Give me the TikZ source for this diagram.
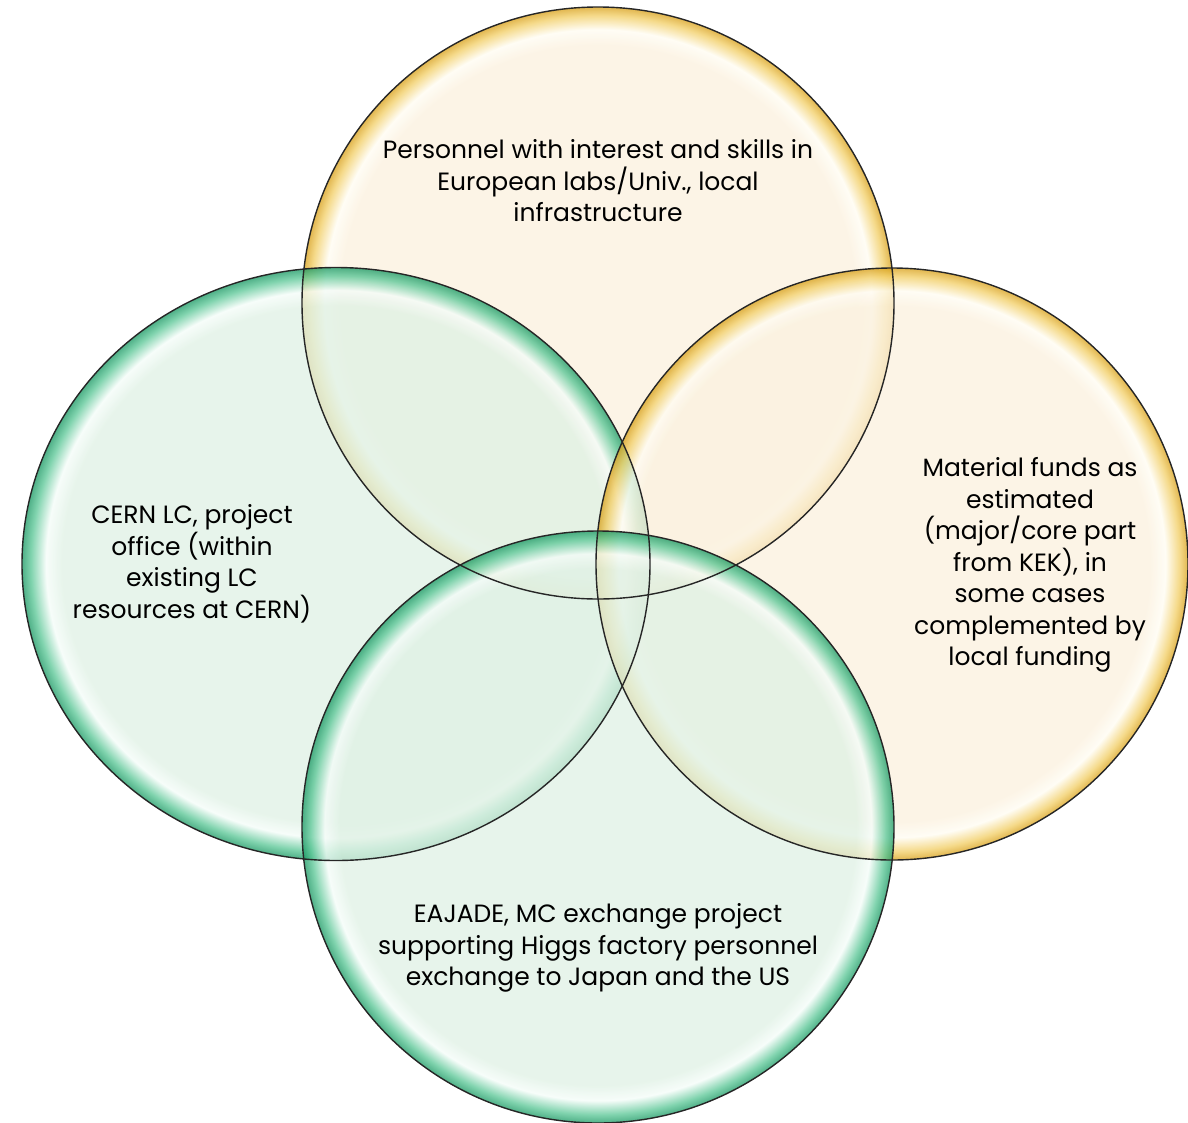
\documentclass[tikz,border=0pt]{standalone}
\usepackage{fontspec}
\setmainfont{Poppins}
\usetikzlibrary{shapes.geometric}
\definecolor{yelin}{HTML}{FBF1DF}
\definecolor{yelhi}{HTML}{FFFCF2}
\definecolor{yelmid}{HTML}{F2CF68}
\definecolor{yeledge}{HTML}{D9A21E}
\definecolor{grnin}{HTML}{E0F1E5}
\definecolor{grnhi}{HTML}{F4FCF8}
\definecolor{grnmid}{HTML}{5CC797}
\definecolor{grnedge}{HTML}{1E9A66}
\pgfdeclareradialshading{yellowglass}{\pgfpoint{0bp}{0bp}}{%
  color(0bp)=(yelin); color(21.8bp)=(yelin); color(23.1bp)=(yelhi);
  color(24.3bp)=(yelmid); color(25bp)=(yeledge); color(50bp)=(yeledge)}
\pgfdeclareradialshading{greenglass}{\pgfpoint{0bp}{0bp}}{%
  color(0bp)=(grnin); color(21.8bp)=(grnin); color(23.1bp)=(grnhi);
  color(24.3bp)=(grnmid); color(25bp)=(grnedge); color(50bp)=(grnedge)}

\begin{document}
\begin{tikzpicture}[x=1pt,y=-1pt]
\tikzset{bubble/.style = {fill opacity=0.78, inner sep=0pt}}
\tikzset{yellowbubble/.style = {bubble, circle, shading=yellowglass, minimum size=592pt}}
\tikzset{greenbubble/.style = {bubble, shading=greenglass}}
\tikzset{rim/.style = {draw=black!85, line width=1.4pt}}
\tikzset{label/.style = {align=center, font=\fontsize{25}{31.5}\selectfont, text=black, inner sep=0pt}}
\useasboundingbox (0,0) rectangle (1188,1122);

\node[yellowbubble] (top) at (598,303) {};
\node[greenbubble, ellipse, minimum width=628pt, minimum height=593pt] (left) at (336,564) {};
\node[yellowbubble] (right) at (892,564) {};
\node[greenbubble, circle, minimum size=592pt] (bottom) at (598,827) {};

% outlines on top of all fills
\draw[rim] (top.center) circle[radius=296];
\draw[rim] (left.center) ellipse[x radius=314, y radius=296.5];
\draw[rim] (right.center) circle[radius=296];
\draw[rim] (bottom.center) circle[radius=296];

\node[label] (toptext) at (598,181) {Personnel with interest and skills in\\European labs/Univ., local\\infrastructure};
\node[label] (lefttext) at (192,564) {CERN LC, project\\office (within\\existing LC\\resources at CERN)};
\node[label] (righttext) at (1030,565) {Material funds as\\estimated\\(major/core part\\from KEK), in\\some cases\\complemented by\\local funding};
\node[label] (bottomtext) at (598,948) {EAJADE, MC exchange project\\supporting Higgs factory personnel\\exchange to Japan and the US};
\end{tikzpicture}
\end{document}
